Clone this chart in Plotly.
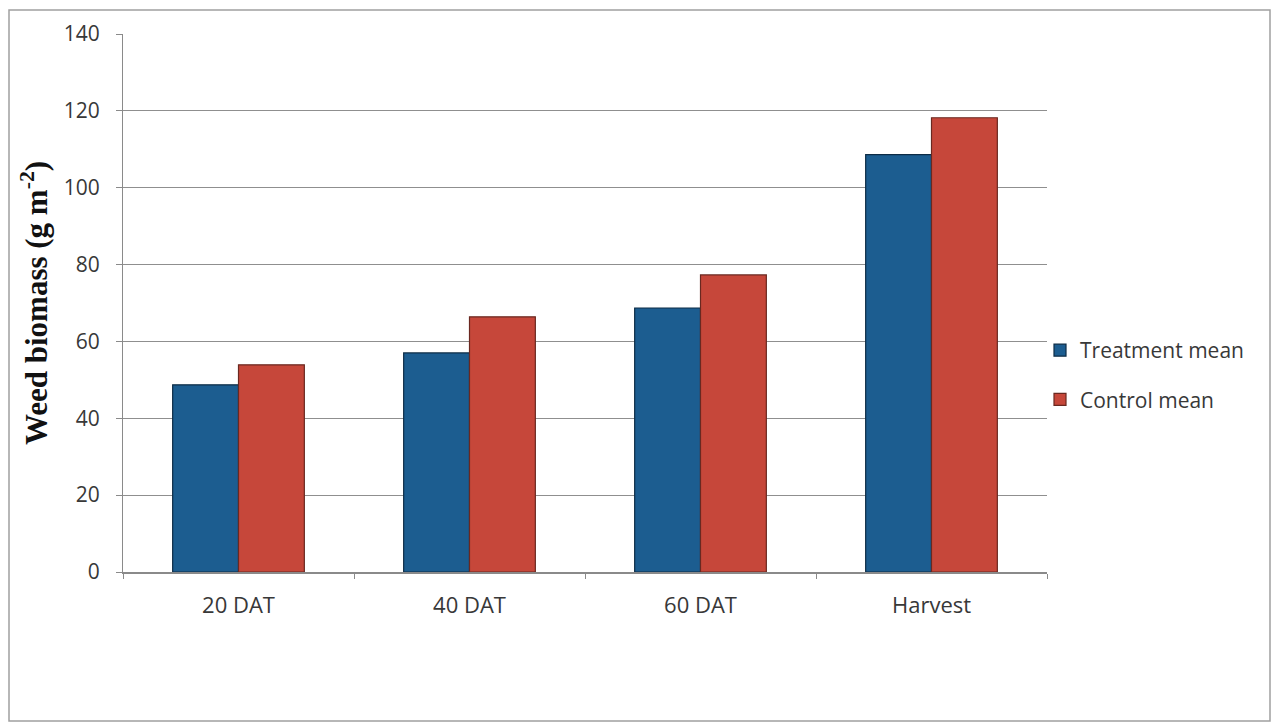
import plotly.graph_objects as go

categories = ["20 DAT", "40 DAT", "60 DAT", "Harvest"]
treatment_mean = [48.7, 57.0, 68.7, 108.6]
control_mean = [53.9, 66.4, 77.3, 118.2]
y_ticks = [0, 20, 40, 60, 80, 100, 120, 140]

W, H = 1277, 722
L, R, T, B = 123, 230, 34, 150
pw, ph = W - L - R, H - T - B

def px_x(p):
    return (p - L) / pw

def px_y(p):
    return (H - B - p) / ph

fig = go.Figure()
fig.add_trace(go.Bar(
    x=categories, y=treatment_mean, name="Treatment mean",
    marker=dict(color="#1c5d90", line=dict(color="#0d2c46", width=1.2)),
    legendgroup="a",
))
fig.add_trace(go.Bar(
    x=categories, y=control_mean, name="Control mean",
    marker=dict(color="#c6473a", line=dict(color="#6a2820", width=1.2)),
    legendgroup="b",
))

fig.update_layout(
    width=W, height=H,
    margin=dict(l=L, r=R, t=T, b=B),
    paper_bgcolor="white", plot_bgcolor="white",
    barmode="group", bargap=0.43, bargroupgap=0,
    font=dict(family="'Open Sans', Lato, sans-serif", color="#383838"),
    showlegend=True,
    legend=dict(
        x=px_x(1040), y=px_y(330), xanchor="left", yanchor="top",
        font=dict(size=21, color="#383838"),
        tracegroupgap=19, itemwidth=30,
        bgcolor="rgba(0,0,0,0)",
    ),
    xaxis=dict(
        type="category",
        showline=True, linecolor="#8a8a8a", linewidth=1.5,
        ticks="outside", ticklen=5, tickcolor="#8a8a8a",
        tickson="boundaries",
        tickfont=dict(size=22, color="#383838"),
        ticklabelstandoff=13,
        showgrid=False,
    ),
    yaxis=dict(
        range=[0, 140], tickvals=y_ticks,
        showline=True, linecolor="#8a8a8a", linewidth=1.2,
        ticks="outside", ticklen=6, tickcolor="#8a8a8a",
        showgrid=True, gridcolor="#8f8f8f", gridwidth=1,
        tickfont=dict(size=21, color="#383838"),
        ticklabelstandoff=12,
        zeroline=False,
        title=dict(
            text="<b>Weed biomass (g m<sup>-2</sup>)</b>",
            font=dict(family="'Liberation Serif', 'Times New Roman', serif", size=31, color="#111111"),
            standoff=6,
        ),
    ),
    shapes=[dict(
        type="rect", xref="paper", yref="paper",
        x0=px_x(9), x1=px_x(1270), y0=px_y(721), y1=px_y(10),
        line=dict(color="#a0a0a0", width=1.5), fillcolor="rgba(0,0,0,0)",
        layer="below",
    )],
)

fig.write_html("out.html")
